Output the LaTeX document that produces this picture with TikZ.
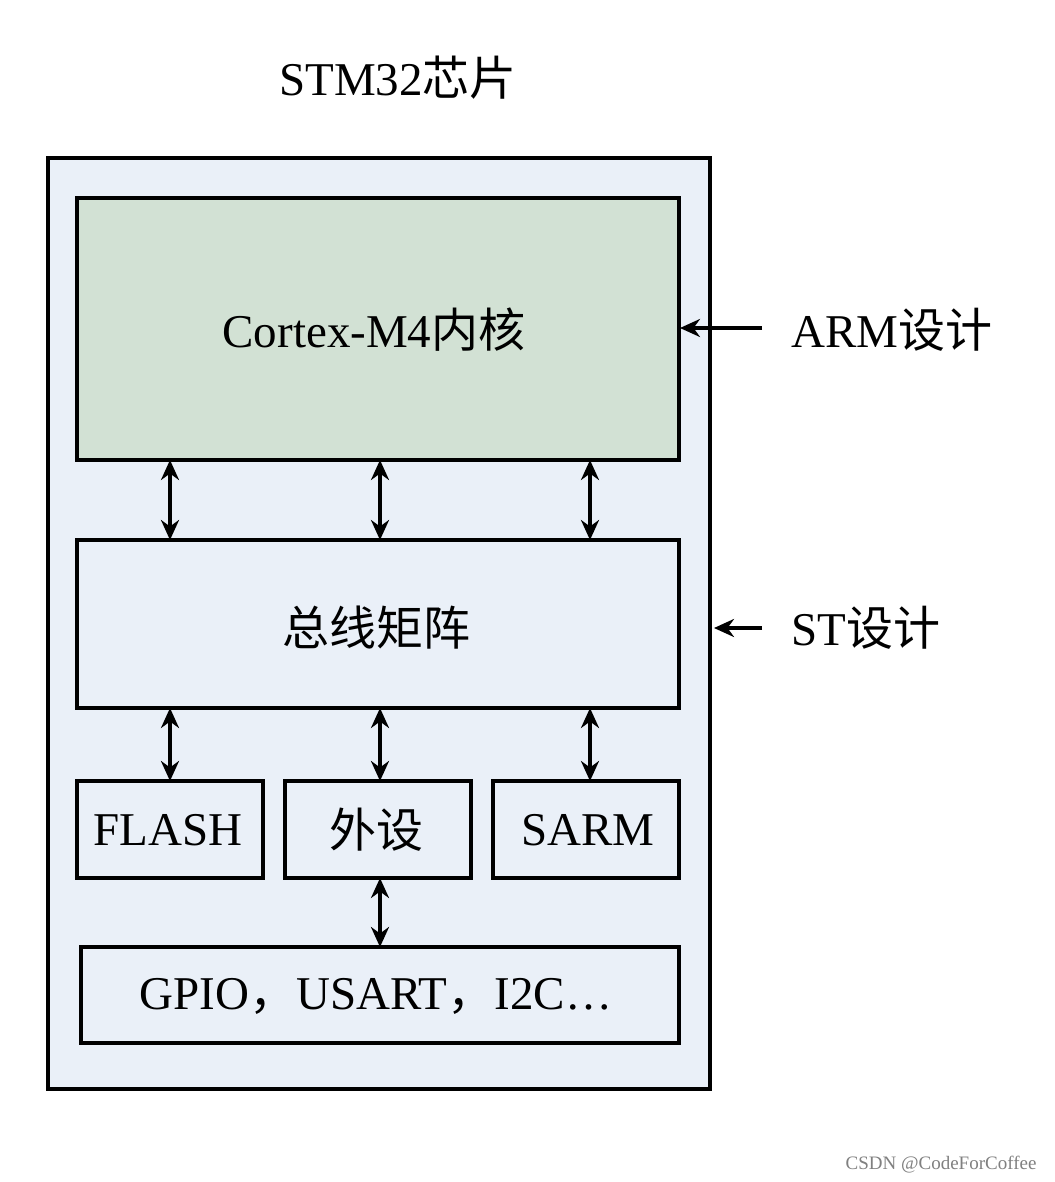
\documentclass[tikz,border=0pt]{standalone}
\usepackage{fontspec}
\setmainfont{Liberation Serif}
\newfontfamily\cjk{Noto Sans CJK SC}
\usetikzlibrary{arrows.meta}
\definecolor{outerbg}{HTML}{EAF0F8}
\definecolor{corebg}{HTML}{D2E1D4}
\begin{document}
\begin{tikzpicture}[x=1pt,y=-1pt,
  box/.style={draw=black,line width=3.5pt,inner sep=0pt},
  lbl/.style={font=\fontsize{47}{50}\selectfont},
  arr/.style={line width=3.5pt,{Stealth[length=20pt,width=18pt]}-{Stealth[length=20pt,width=18pt]}},
  sarr/.style={line width=3.5pt,-{Stealth[length=20pt,width=18pt]}}]
\useasboundingbox (0,0) rectangle (1054,1182);
\fill[white] (0,0) rectangle (1054,1182);
\draw[box,fill=outerbg] (48,158) rectangle (710,1089);
\draw[box,fill=corebg] (77,198) rectangle (679,460);
\node[lbl] (core) at (374,330) {Cortex-M4{\cjk 内核}};
\draw[box,fill=outerbg] (77,540) rectangle (679,708);
\node[lbl] (bus) at (376,628) {\cjk 总线矩阵};
\draw[box] (77,781) rectangle (263,878);
\node[lbl] (flash) at (168,830) {FLASH};
\draw[box] (285,781) rectangle (471,878);
\node[lbl] (per) at (376,830) {\cjk 外设};
\draw[box] (493,781) rectangle (679,878);
\node[lbl] (sarm) at (588,830) {SARM};
\draw[box] (81,947) rectangle (679,1043);
\node[lbl] (gpio) at (376,996) {GPIO{\cjk ，}USART{\cjk ，}I2C…};
\node[lbl] (title) at (398,78) {STM32{\cjk 芯片}};
\node[lbl,anchor=west] (arm) at (788,330) {ARM{\cjk 设计}};
\node[lbl,anchor=west] (st) at (788,628) {ST{\cjk 设计}};
\coordinate (a1) at (170,460); \coordinate (b1) at (170,540);
\coordinate (a2) at (380,460); \coordinate (b2) at (380,540);
\coordinate (a3) at (590,460); \coordinate (b3) at (590,540);
\coordinate (c1) at (170,708); \coordinate (d1) at (170,781);
\coordinate (c2) at (380,708); \coordinate (d2) at (380,781);
\coordinate (c3) at (590,708); \coordinate (d3) at (590,781);
\coordinate (e) at (380,878); \coordinate (f) at (380,947);
\draw[arr] (a1)--(b1); \draw[arr] (a2)--(b2); \draw[arr] (a3)--(b3);
\draw[arr] (c1)--(d1); \draw[arr] (c2)--(d2); \draw[arr] (c3)--(d3);
\draw[arr] (e)--(f);
\coordinate (armS) at (762,328); \coordinate (armE) at (680,328);
\coordinate (stS) at (762,628); \coordinate (stE) at (714,628);
\draw[sarr] (armS)--(armE);
\draw[sarr] (stS)--(stE);
\node[font=\fontsize{19}{21}\selectfont,text=gray,anchor=east] (wm) at (1040,1165) {CSDN @CodeForCoffee};
\end{tikzpicture}
\end{document}
